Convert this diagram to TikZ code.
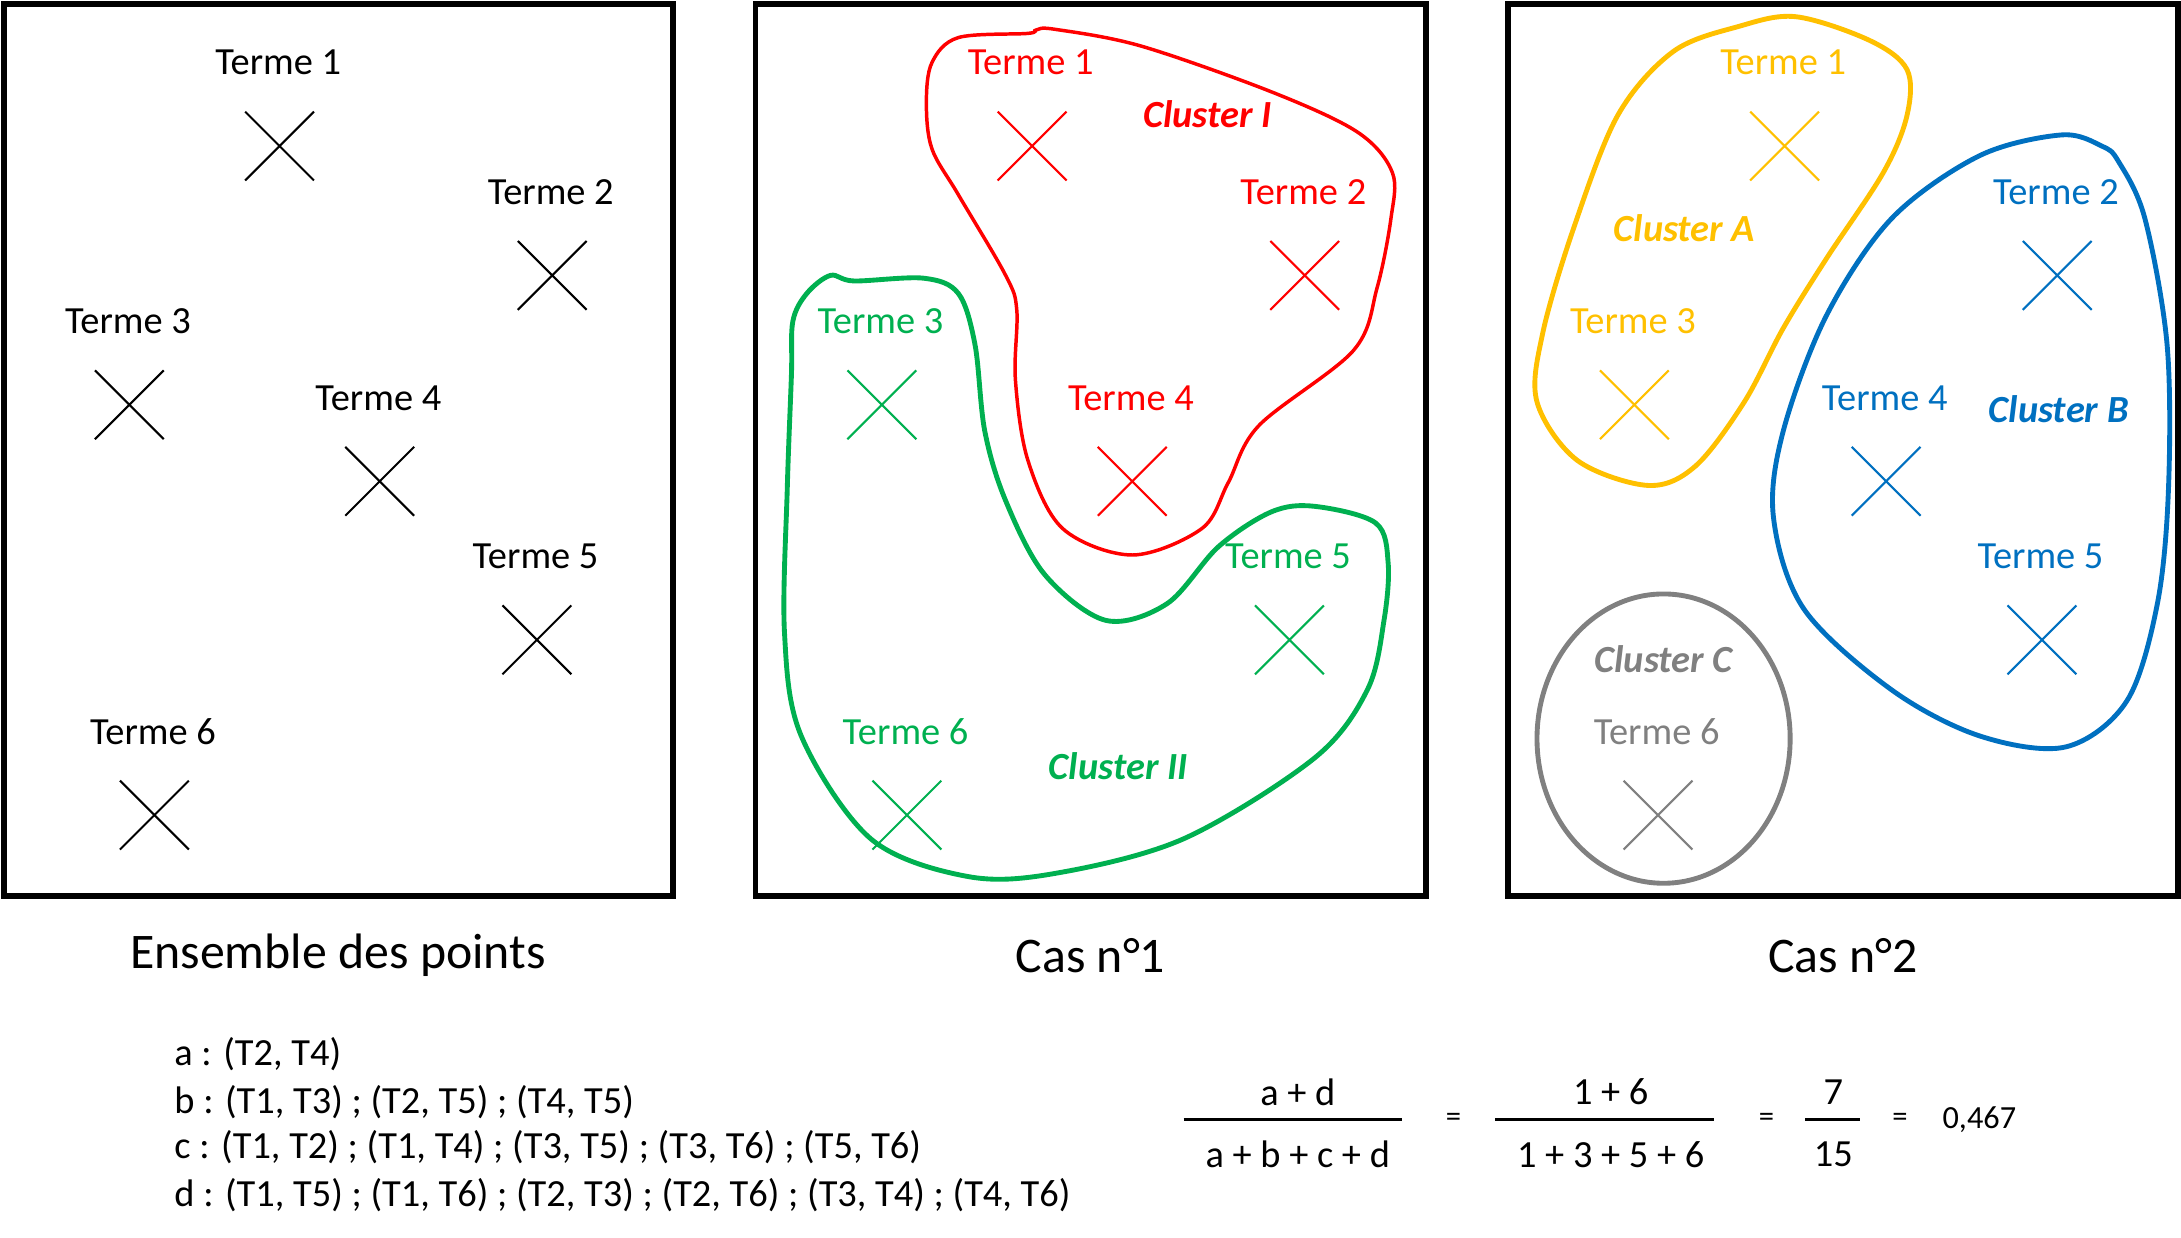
\documentclass[tikz,border=0pt]{standalone}
\usepackage{fontspec}
\setmainfont{Carlito}
\usetikzlibrary{shapes.misc}
\definecolor{rouge}{RGB}{255,0,0}
\definecolor{vert}{RGB}{0,176,80}
\definecolor{jaune}{RGB}{255,192,0}
\definecolor{bleu}{RGB}{0,112,192}
\definecolor{gris}{RGB}{128,128,128}
\tikzset{
	terme/.style={font=\fontsize{13.8}{16}\selectfont, inner sep=0pt},
	croix/.style={cross out, draw, minimum size=24pt, inner sep=0pt, line width=0.75pt},
	cadre/.style={line width=2pt},
	titre/.style={font=\fontsize{17.9}{21}\selectfont, inner sep=0pt},
	cluster/.style={font=\fontsize{13.8}{16}\selectfont\bfseries\itshape, inner sep=0pt},
	paire/.style={font=\fontsize{13.8}{16}\selectfont, inner sep=0pt, anchor=west},
}
% label + cross under it
\newcommand{\terme}[5]{\node[terme, text=#5] (t#1) at (#2, #3) {Terme #4};
	\node[croix, draw=#5] (x#1) at (#2+1, #3+60) {};}

\begin{document}
\begin{tikzpicture}[x=0.5pt, y=-0.5pt]
		%%%%% START %%%%%
		\useasboundingbox (0, 0) rectangle (1568, 890);
		
		\draw[cadre] (3, 3) rectangle (484, 644);
		\draw[cadre] (543, 3) rectangle (1025, 644);
		\draw[cadre] (1084, 3) rectangle (1566, 644);
		
		% ensemble des points
		\terme{a1}{200}{45}{1}{black}
		\terme{a2}{396}{138}{2}{black}
		\terme{a3}{92}{231}{3}{black}
		\terme{a4}{272}{286}{4}{black}
		\terme{a5}{385}{400}{5}{black}
		\terme{a6}{110}{526}{6}{black}
		
		% cas 1
		\terme{b1}{741}{45}{1}{rouge}
		\terme{b2}{937}{138}{2}{rouge}
		\terme{b3}{633}{231}{3}{vert}
		\terme{b4}{813}{286}{4}{rouge}
		\terme{b5}{926}{400}{5}{vert}
		\terme{b6}{651}{526}{6}{vert}
		
		\draw[rouge, line width=1.25pt] plot[smooth cycle, tension=0.55] coordinates {
			(666, 74) (670, 45) (689, 27) (739, 24) (745, 21.5) (758, 21) (820, 33)
			(914, 66) (976, 95) (1001, 124) (1000, 157) (990, 207) (973, 252)
			(905, 306) (883, 347) (864, 380) (814, 399) (764, 380) (739, 331)
			(730, 273) (731, 223) (723, 198) (689, 140) (670, 107)};
		\draw[vert, line width=1.75pt] plot[smooth cycle, tension=0.55] coordinates {
			(597, 198) (614, 202) (664, 200) (689, 211) (701, 248) (708, 310)
			(723, 360) (751, 413) (795, 446) (839, 434) (876, 393) (914, 368)
			(945, 364) (989, 376) (998, 405) (995, 446) (983, 496) (945, 545)
			(851, 603) (758, 628) (695, 630) (626, 603) (576, 529) (564, 455)
			(566, 351) (569, 269) (570, 231) (580, 211)};
		\node[cluster, text=rouge] (c1) at (868, 82) {Cluster I};
		\node[cluster, text=vert] (c2) at (804, 551) {Cluster II};
		
		% cas 2
		\terme{c1}{1282}{45}{1}{jaune}
		\terme{c2}{1478}{138}{2}{bleu}
		\terme{c3}{1174}{231}{3}{jaune}
		\terme{c4}{1355}{286}{4}{bleu}
		\terme{c5}{1467}{400}{5}{bleu}
		\terme{c6}{1191}{526}{6}{gris}
		
		\draw[jaune, line width=1.75pt] plot[smooth cycle, tension=0.55] coordinates {
			(1291, 12) (1344, 29) (1371, 50) (1371, 83) (1354, 124) (1313, 186)
			(1282, 236) (1254, 289) (1219, 335) (1185, 349) (1134, 331) (1105, 289)
			(1109, 240) (1131, 165) (1163, 83) (1203, 37) (1250, 19)};
		\draw[bleu, line width=1.75pt] plot[smooth cycle, tension=0.55] coordinates {
			(1482, 97) (1511, 105) (1523, 116) (1542, 157) (1558, 248) (1559, 351)
			(1551, 434) (1529, 504) (1485, 537) (1423, 529) (1360, 496) (1297, 438)
			(1275, 372) (1282, 310) (1313, 227) (1360, 157) (1423, 112)};
		\draw[gris, line width=1.75pt] (1196, 531) ellipse [x radius=91, y radius=104];
		\node[cluster, text=jaune] (ca) at (1211, 164) {Cluster A};
		\node[cluster, text=bleu] (cb) at (1480, 294) {Cluster B};
		\node[cluster, text=gris] (cc) at (1196, 474) {Cluster C};
		
		\node[titre] (ens) at (243, 687) {Ensemble des points};
		\node[titre] (cas1) at (784, 687) {Cas n°1};
		\node[titre] (cas2) at (1325, 687) {Cas n°2};
		
		% paires
		\node[paire] (pa) at (125, 758) {a : (T2, T4)};
		\node[paire] (pb) at (125, 792) {b : (T1, T3) ; (T2, T5) ; (T4, T5)};
		\node[paire] (pc) at (125, 825) {c : (T1, T2) ; (T1, T4) ; (T3, T5) ; (T3, T6) ; (T5, T6)};
		\node[paire] (pd) at (125, 859) {d : (T1, T5) ; (T1, T6) ; (T2, T3) ; (T2, T6) ; (T3, T4) ; (T4, T6)};
		
		% indice
		\draw[line width=1pt] (851, 805) -- (1008, 805);
		\node[terme] (n1) at (933, 785) {a + d};
		\node[terme] (d1) at (933, 830) {a + b + c + d};
		\node[terme, font=\fontsize{11}{13}\selectfont] (eq1) at (1045, 805) {=};
		\draw[line width=1pt] (1075, 805) -- (1232, 805);
		\node[terme] (n2) at (1158, 785) {1 + 6};
		\node[terme] (d2) at (1158, 830) {1 + 3 + 5 + 6};
		\node[terme, font=\fontsize{11}{13}\selectfont] (eq2) at (1270, 805) {=};
		\draw[line width=1pt] (1298, 805) -- (1337, 805);
		\node[terme] (n3) at (1318, 785) {7};
		\node[terme] (d3) at (1318, 830) {15};
		\node[terme, font=\fontsize{11}{13}\selectfont] (eq3) at (1366, 805) {=};
		\node[terme, font=\fontsize{11.6}{13}\selectfont] (res) at (1423, 805) {0,467};
		
		%%%%% END %%%%%
\end{tikzpicture}
\end{document}
